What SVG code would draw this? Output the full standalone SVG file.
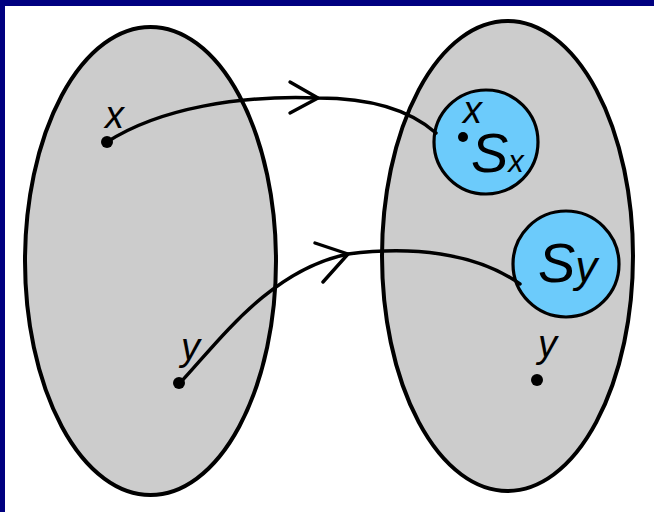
<svg xmlns="http://www.w3.org/2000/svg" width="654" height="512" viewBox="0 0 654 512">
<style>
.set{fill:#cccccc;stroke:#000;stroke-width:4}
.sub{fill:#6ccbfb;stroke:#000;stroke-width:3.2}
.dot{fill:#000}
.lbl{font-family:"Liberation Sans",Arial,sans-serif;font-style:italic;fill:#000}
.con{fill:none;stroke:#000;stroke-width:3.4;stroke-linecap:round;stroke-linejoin:round}
</style>
<rect x="0" y="0" width="654" height="512" fill="#fff"/>
<rect x="0" y="0" width="654" height="6" fill="#000080"/>
<rect x="0" y="0" width="5" height="512" fill="#000080"/>
<g id="setA">
<ellipse class="set" cx="150.5" cy="261" rx="125.5" ry="234"/>
</g>
<g id="setB">
<ellipse class="set" cx="507.5" cy="256" rx="125.5" ry="235"/>
</g>
<g id="Sx">
<circle class="sub" cx="486" cy="142" r="52"/>
</g>
<g id="Sy">
<circle class="sub" cx="566" cy="264" r="53"/>
</g>
<g id="connectors">
<path class="con" d="M107,142 C160,108 240,95 318,98 C370,98 410,110 436,133"/>
<path class="con" d="M290,82 L318,98 L290,113"/>
<path class="con" d="M180,383 C220,340 270,270 348,254 C410,246 475,252 520,284"/>
<path class="con" d="M315,243 L348,254 L323,282"/>
</g>
<g id="pointXA">
<circle class="dot" cx="107" cy="142" r="6"/>
<text class="lbl" x="105" y="128" font-size="38">x</text>
</g>
<g id="pointYA">
<circle class="dot" cx="179" cy="383" r="6"/>
<text class="lbl" x="181" y="360" font-size="38">y</text>
</g>
<g id="pointXB">
<circle class="dot" cx="463" cy="137" r="5"/>
<text class="lbl" x="463" y="123" font-size="38">x</text>
</g>
<g id="pointYB">
<circle class="dot" cx="537" cy="380" r="6"/>
<text class="lbl" x="538" y="357" font-size="38">y</text>
</g>
<g id="labelSx">
<text class="lbl" x="471" y="172" font-size="56">S<tspan font-size="31">x</tspan></text>
</g>
<g id="labelSy">
<text class="lbl" x="538" y="282" font-size="56">S<tspan font-size="44">y</tspan></text>
</g>
</svg>
